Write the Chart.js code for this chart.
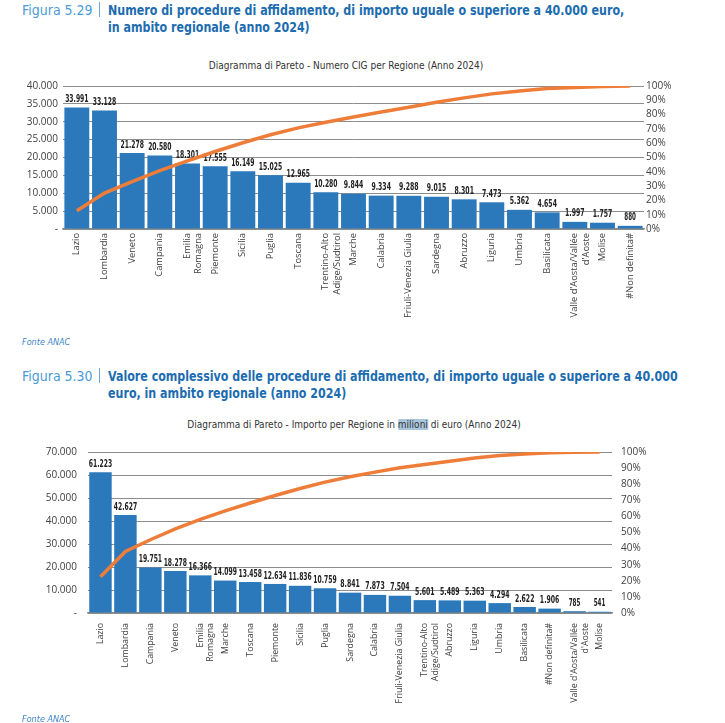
<!DOCTYPE html>
<html>
<head>
<meta charset="utf-8">
<script src="https://cdn.jsdelivr.net/npm/chart.js@4.4.1/dist/chart.umd.min.js"></script>
<style>
  body { margin: 0; background: #fff; width: 725px; height: 723px; overflow: hidden; position: relative;
         font-family: 'DejaVu Sans Condensed', sans-serif; }
  .fig { position: absolute; left: 22px; font-size: 14px; line-height: 17px; color: #1c6cb0; white-space: nowrap; }
  .fig .num { position: absolute; left: 0; top: 0; color: #4b9bd6; }
  .fig .sep { position: absolute; left: 77px; top: 0px; width: 1px; height: 15px; background: #6aa6d8; }
  .fig .txt { position: absolute; left: 86px; top: 0; font-weight: bold; transform: scaleX(0.88); transform-origin: 0 0; }
  .ctitle { position: absolute; font-size: 10px; color: #333; white-space: nowrap; transform: translateX(-50%); }
  .ctitle span { background: #a9c5de; }
  .fonte { position: absolute; left: 22px; font-size: 9px; font-style: italic; color: #3f86c6; }
  canvas { position: absolute; left: 0; }
</style>
</head>
<body>

<div class="fig" style="top:2px">
  <span class="num">Figura 5.29</span><span class="sep"></span>
  <span class="txt">Numero di procedure di affidamento, di importo uguale o superiore a 40.000 euro,<br>in ambito regionale (anno 2024)</span>
</div>
<div class="ctitle" style="left:346px;top:60px">Diagramma di Pareto - Numero CIG per Regione (Anno 2024)</div>
<div style="position:absolute;left:0;top:75px;width:700px;height:262px"><canvas id="c1"></canvas></div>
<div class="fonte" style="top:337px">Fonte ANAC</div>

<div class="fig" style="top:368px">
  <span class="num">Figura 5.30</span><span class="sep"></span>
  <span class="txt">Valore complessivo delle procedure di affidamento, di importo uguale o superiore a 40.000<br>euro, in ambito regionale (anno 2024)</span>
</div>
<div class="ctitle" style="left:354px;top:419px">Diagramma di Pareto - Importo per Regione in <span>milioni</span> di euro (Anno 2024)</div>
<div style="position:absolute;left:0;top:435px;width:700px;height:288px"><canvas id="c2"></canvas></div>
<div class="fonte" style="top:714px">Fonte ANAC</div>

<script>
// Figura 5.29 - numero CIG per regione
const regioni1 = ['Lazio', 'Lombardia', 'Veneto', 'Campania', ['Emilia', 'Romagna'], 'Piemonte', 'Sicilia', 'Puglia',
  'Toscana', ['Trentino-Alto', 'Adige/Sudtirol'], 'Marche', 'Calabria', 'Friuli-Venezia Giulia', 'Sardegna',
  'Abruzzo', 'Liguria', 'Umbria', 'Basilicata', ["Valle d'Aosta/Vallée", "d'Aoste"], 'Molise', '#Non definita#'];
const numeroCig = [33991, 33128, 21278, 20580, 18301, 17555, 16149, 15025, 12965, 10280, 9844,
  9334, 9288, 9015, 8301, 7473, 5362, 4654, 1997, 1757, 880];
const cumulataCig = [12.7, 25.1, 33.1, 40.8, 47.6, 54.2, 60.3, 65.9, 70.7, 74.6, 78.3,
  81.8, 85.2, 88.6, 91.7, 94.5, 96.5, 98.3, 99.0, 99.7, 100];

// Figura 5.30 - importo in milioni di euro per regione
const regioni2 = ['Lazio', 'Lombardia', 'Campania', 'Veneto', ['Emilia', 'Romagna'], 'Marche', 'Toscana', 'Piemonte',
  'Sicilia', 'Puglia', 'Sardegna', 'Calabria', 'Friuli-Venezia Giulia', ['Trentino-Alto', 'Adige/Sudtirol'],
  'Abruzzo', 'Liguria', 'Umbria', 'Basilicata', '#Non definita#', ["Valle d'Aosta/Vallée", "d'Aoste"], 'Molise'];
const importo = [61223, 42627, 19751, 18278, 16366, 14099, 13458, 12634, 11836, 10759, 8841,
  7873, 7504, 5601, 5489, 5363, 4294, 2622, 1906, 785, 541];
const cumulataImporto = [22.5, 38.2, 45.5, 52.2, 58.2, 63.4, 68.3, 73.0, 77.3, 81.3, 84.6,
  87.5, 90.2, 92.3, 94.3, 96.3, 97.8, 98.8, 99.5, 99.8, 100];

const pctTicks = [0, 10, 20, 30, 40, 50, 60, 70, 80, 90, 100];

const fmt = v => v === 0 ? '-' : String(v).replace(/\B(?=(\d{3})+(?!\d))/g, '.');
const axisFont = { family: "'Open Sans', sans-serif", size: 10 };

// values above the bars, drawn before the line so the line stays on top
const barValues = {
  id: 'barValues',
  afterDatasetDraw(chart, args) {
    if (args.index !== 0) return;
    const ctx = chart.ctx;
    ctx.save();
    ctx.font = "bold 10px 'DejaVu Sans Condensed', sans-serif";
    ctx.fillStyle = '#222';
    ctx.textAlign = 'center';
    ctx.textBaseline = 'bottom';
    args.meta.data.forEach((bar, i) => {
      const txt = fmt(chart.data.datasets[0].data[i]);
      ctx.fillText(txt, bar.x, bar.y - 3, txt.length * 3.9);
    });
    ctx.restore();
  }
};

function pareto(id, labels, values, cumulative, opt) {
  return new Chart(document.getElementById(id), {
    data: {
      labels: labels,
      datasets: [
        { type: 'bar', data: values, backgroundColor: '#2b79bb', order: 1,
          barPercentage: 1, categoryPercentage: 0.9, yAxisID: 'y' },
        { type: 'line', data: cumulative, borderColor: '#ef7d3a', borderWidth: 3.5, pointRadius: 0,
          tension: 0, order: 0, yAxisID: 'y1' }
      ]
    },
    options: {
      responsive: true,
      maintainAspectRatio: false,
      animation: false,
      layout: { padding: { top: opt.top, right: 0, left: 0, bottom: 0 } },
      plugins: { legend: { display: false }, tooltip: { enabled: false } },
      scales: {
        x: {
          grid: { display: false, drawTicks: false },
          border: { color: '#8c8c8c', width: 1.5 },
          ticks: { minRotation: 90, maxRotation: 90, autoSkip: false, padding: opt.xPad,
                   color: '#404040', font: { family: "'Open Sans', sans-serif", size: opt.catSize } },
          afterFit: s => { s.height = opt.xHeight; }
        },
        y: {
          min: 0, max: opt.max,
          ticks: { stepSize: opt.step, padding: opt.yPad, color: '#404040', font: axisFont, callback: fmt },
          grid: { color: '#8c8c8c', drawTicks: false },
          border: { display: false },
          afterFit: s => { s.width = opt.left; }
        },
        y1: {
          position: 'right', min: 0, max: 100,
          afterBuildTicks: s => { s.ticks = pctTicks.map(v => ({ value: v })); },
          ticks: { autoSkip: false, padding: opt.y1Pad, color: '#404040', font: axisFont, callback: v => v + '%' },
          grid: { display: false, drawTicks: false },
          border: { display: false },
          afterFit: s => { s.width = opt.right; }
        }
      }
    },
    plugins: [barValues]
  });
}

pareto('c1', regioni1, numeroCig, cumulataCig,
  { max: 40000, step: 5000, top: 10, left: 63, right: 56, xHeight: 108, xPad: 4, yPad: 5, y1Pad: 2, catSize: 9.3 });
pareto('c2', regioni2, importo, cumulataImporto,
  { max: 70000, step: 10000, top: 12, left: 88, right: 88, xHeight: 110, xPad: 10, yPad: 11, y1Pad: 9, catSize: 8.8 });
</script>
</body>
</html>
